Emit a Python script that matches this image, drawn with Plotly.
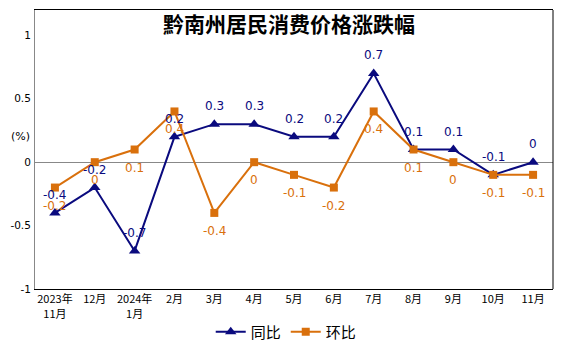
import plotly.graph_objects as go

categories = ["2023年<br>11月", "12月", "2024年<br>1月", "2月", "3月", "4月", "5月",
              "6月", "7月", "8月", "9月", "10月", "11月"]
yoy = [-0.4, -0.2, -0.7, 0.2, 0.3, 0.3, 0.2, 0.2, 0.7, 0.1, 0.1, -0.1, 0]
mom = [-0.2, 0, 0.1, 0.4, -0.4, 0, -0.1, -0.2, 0.4, 0.1, 0, -0.1, -0.1]
ytick_vals = [-1, -0.5, 0, 0.5, 1]
ytick_text = ["-1", "-0.5", "0", "0.5", "1"]

NAVY = "#0A0A7E"
ORANGE = "#D9700C"
FONT = "DejaVu Sans, Noto Sans CJK SC, sans-serif"
CJK = "Noto Sans CJK SC, sans-serif"

x = list(range(len(categories)))

fig = go.Figure()
fig.add_trace(go.Scatter(
    x=x, y=yoy, name="同比", mode="lines+markers",
    line=dict(color=NAVY, width=2),
    marker=dict(symbol="triangle-up", size=10, color=NAVY),
))
fig.add_trace(go.Scatter(
    x=x, y=mom, name="环比", mode="lines+markers",
    line=dict(color=ORANGE, width=2),
    marker=dict(symbol="square", size=8, color=ORANGE),
))

annotations = []
for xi, v in zip(x, yoy):
    annotations.append(dict(x=xi, y=v, xref="x", yref="y", text=str(v), showarrow=False,
                            yshift=18, font=dict(color=NAVY, size=12, family=FONT)))
for xi, v in zip(x, mom):
    annotations.append(dict(x=xi, y=v, xref="x", yref="y", text=str(v), showarrow=False,
                            yshift=-18, font=dict(color=ORANGE, size=12, family=FONT)))
annotations += [
    dict(text="<b>黔南州居民消费价格涨跌幅</b>", x=0.49, y=0.955, xref="paper", yref="paper",
         xanchor="center", yanchor="middle", showarrow=False,
         font=dict(size=21, color="black", family=CJK)),
    dict(text="(%)", x=-0.05, y=0.545, xref="paper", yref="paper",
         xanchor="left", yanchor="middle", showarrow=False,
         font=dict(size=11, color="black", family=FONT)),
]

fig.update_layout(
    width=558, height=340,
    margin=dict(l=27, r=13, t=2, b=59, autoexpand=False),
    paper_bgcolor="white", plot_bgcolor="white",
    font=dict(family=FONT, size=11, color="black"),
    showlegend=True,
    legend=dict(orientation="h", x=0.485, xanchor="center", y=-0.154, yanchor="middle",
                font=dict(size=15, family=CJK), tracegroupgap=0, itemwidth=30),
    xaxis=dict(
        range=[-0.5, 12.5], tickmode="array", tickvals=x, ticktext=categories,
        showgrid=False, zeroline=False, showline=True, mirror=True,
        linecolor="black", linewidth=1, ticks="", automargin=False,
        tickfont=dict(size=11, family=CJK),
    ),
    yaxis=dict(
        range=[-1, 1.2], tickmode="array", tickvals=ytick_vals, ticktext=ytick_text,
        showgrid=False, zeroline=True, zerolinecolor="#888888", zerolinewidth=1,
        showline=True, mirror=False, linecolor="#888888", linewidth=1, ticks="",
        tickfont=dict(size=10.5, family=FONT), ticklabelstandoff=1, automargin=False,
    ),
    shapes=[dict(type="line", xref="paper", yref="paper", x0=1, x1=1, y0=0, y1=1,
                 line=dict(color="black", width=1))],
    annotations=annotations,
)

fig.write_html("out.html")
